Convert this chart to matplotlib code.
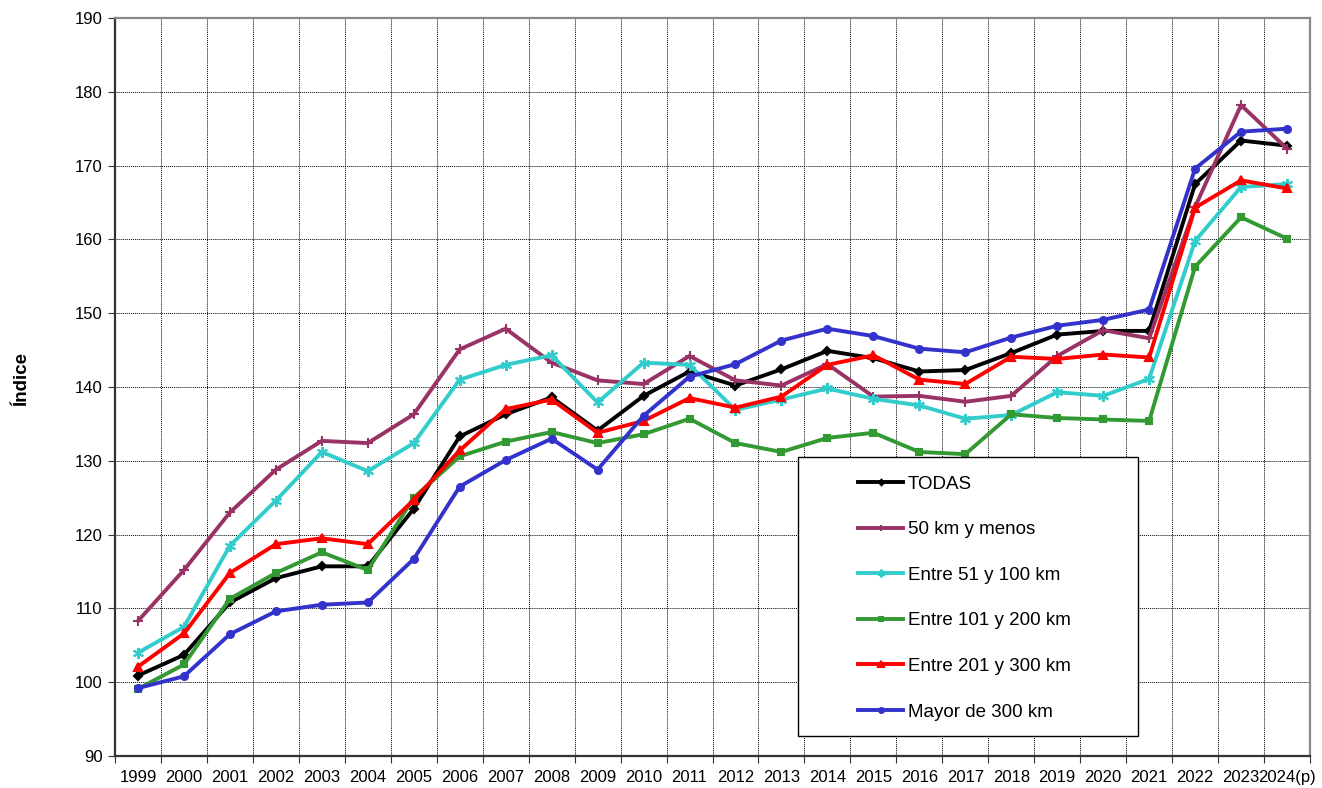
import matplotlib
matplotlib.use("Agg")
import matplotlib.pyplot as plt
from matplotlib.patches import Rectangle
import numpy as np

plt.rcParams['font.family'] = ['Liberation Sans', 'DejaVu Sans']

years = ['1999', '2000', '2001', '2002', '2003', '2004', '2005', '2006', '2007',
         '2008', '2009', '2010', '2011', '2012', '2013', '2014', '2015', '2016',
         '2017', '2018', '2019', '2020', '2021', '2022', '2023', '2024(p)']

todas = [100.9, 103.7, 110.8, 114.1, 115.7, 115.7, 123.5, 133.3, 136.3,
         138.6, 134.1, 138.8, 142.1, 140.2, 142.4, 144.9, 143.9, 142.1,
         142.3, 144.6, 147.1, 147.6, 147.6, 167.5, 173.4, 172.7]
km50 = [108.3, 115.2, 123.0, 128.8, 132.7, 132.4, 136.3, 145.1, 147.9,
        143.3, 140.9, 140.4, 144.2, 140.9, 140.2, 143.1, 138.7, 138.8,
        138.0, 138.8, 144.2, 147.7, 146.6, 164.4, 178.2, 172.3]
km51_100 = [104.0, 107.5, 118.5, 124.6, 131.2, 128.6, 132.4, 141.0, 143.0,
            144.3, 137.9, 143.3, 143.0, 136.9, 138.3, 139.8, 138.4, 137.5,
            135.7, 136.2, 139.3, 138.8, 141.1, 159.8, 167.1, 167.5]
km101_200 = [99.1, 102.4, 111.3, 114.8, 117.6, 115.2, 125.0, 130.6, 132.6,
             133.9, 132.4, 133.6, 135.7, 132.4, 131.2, 133.1, 133.8, 131.2,
             130.9, 136.3, 135.8, 135.6, 135.4, 156.3, 163.0, 160.1]
km201_300 = [102.1, 106.6, 114.8, 118.7, 119.5, 118.7, 124.7, 131.4, 137.0,
             138.3, 133.8, 135.4, 138.5, 137.2, 138.7, 143.0, 144.3, 141.0,
             140.4, 144.1, 143.8, 144.4, 144.0, 164.3, 168.0, 166.9]
mayor300 = [99.2, 100.8, 106.5, 109.6, 110.5, 110.8, 116.7, 126.5, 130.1,
            133.0, 128.8, 136.1, 141.4, 143.1, 146.3, 147.9, 146.9, 145.2,
            144.7, 146.7, 148.3, 149.1, 150.5, 169.6, 174.6, 175.0]

series = [
    ('TODAS', todas, '#000000', 'D', 4),
    ('50 km y menos', km50, '#993366', '+', 7),
    ('Entre 51 y 100 km', km51_100, '#33CCCC', (6, 2, 0), 8),
    ('Entre 101 y 200 km', km101_200, '#339933', 's', 5),
    ('Entre 201 y 300 km', km201_300, '#FF0000', '^', 6),
    ('Mayor de 300 km', mayor300, '#3333CC', 'o', 5),
]

W, H = 1322, 788
fig = plt.figure(figsize=(W / 100, H / 100), dpi=100)
L, R, T, B = 115, 1310, 18, 756
ax = fig.add_axes([L / W, 1 - B / H, (R - L) / W, (B - T) / H])

x = np.arange(len(years))
for label, vals, color, marker, ms in series:
    ax.plot(x, vals, color=color, lw=2.8, marker=marker, ms=ms,
            mew=1.5, mec=color, mfc=color, label=label, zorder=3)

ax.set_xlim(-0.5, len(years) - 0.5)
ax.set_ylim(90, 190)
ax.set_yticks(np.arange(90, 191, 10))
ax.set_xticks(x)
ax.set_xticklabels(years)
ax.tick_params(axis='x', which='major', length=0, pad=10, labelsize=12)
ax.set_xticks(np.arange(-0.5, len(years), 1), minor=True)
ax.tick_params(axis='x', which='minor', length=5, width=0.8, color='#333333')
ax.tick_params(axis='y', length=5, width=0.8, labelsize=12, pad=4, color='#333333')

ax.grid(True, which='minor', axis='x', color='#000000', ls=(0, (1, 1)), lw=0.7)
ax.grid(True, which='major', axis='y', color='#000000', ls=(0, (1, 1)), lw=0.7)
ax.set_axisbelow(True)

for s in ['left', 'bottom']:
    ax.spines[s].set_color('#333333')
    ax.spines[s].set_linewidth(1.6)
for s in ['top', 'right']:
    ax.spines[s].set_color('#888888')
    ax.spines[s].set_linewidth(1.6)

ax.set_ylabel('Índice', fontsize=13.5, fontweight='bold')
ax.yaxis.set_label_coords((30 - L) / (R - L), 1 - (379 - T) / (B - T))

# legend box
lx0, ly0, lx1, ly1 = 798, 457, 1138, 736
rect = Rectangle((lx0 / W, 1 - ly1 / H), (lx1 - lx0) / W, (ly1 - ly0) / H,
                 transform=fig.transFigure, facecolor='white',
                 edgecolor='#000000', lw=1.0, zorder=4)
fig.patches.append(rect)
leg = fig.legend(loc='upper left', bbox_to_anchor=(849 / W, 1 - 466 / H),
                 frameon=False, fontsize=13.5, labelspacing=1.52,
                 handlelength=2.4, handletextpad=0.25, borderpad=0,
                 markerscale=0.7)
leg.set_zorder(5)

fig.savefig('out.png', dpi=100)
